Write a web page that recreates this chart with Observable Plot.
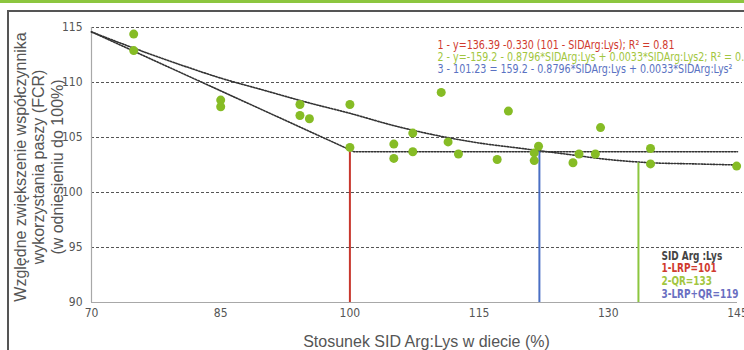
<!DOCTYPE html>
<html>
<head>
<meta charset="utf-8">
<script src="https://cdn.jsdelivr.net/npm/d3@7"></script>
<script src="https://cdn.jsdelivr.net/npm/@observablehq/plot@0.6"></script>
<style>
  html, body { margin: 0; padding: 0; background: #fff; }
  #wrap { position: relative; width: 744px; height: 350px; overflow: hidden; background: #fff; }
  #bar { position: absolute; left: 0; top: 0; width: 744px; height: 3px; background: #8cc63f; }
  #frame { position: absolute; left: 7px; top: 10px; width: 760px; height: 400px; border-top: 2px solid #555; border-left: 2px solid #555; }
  #chart { position: absolute; left: 0; top: 0; }
</style>
</head>
<body>
<div id="wrap"><div id="bar"></div><div id="frame"></div><div id="chart"></div></div>
<script>
// ---- data ----
const xTicks = [70, 85, 100, 115, 130, 145];
const yTicks = [90, 95, 100, 105, 110, 115];
const gridVals = [95, 100, 105, 110, 115];

const pointX = [74.9, 74.9, 85.0, 85.0, 94.2, 94.2, 95.3, 100.0, 100.0, 110.6, 118.4, 105.1, 105.1, 107.3,
                107.3, 111.4, 112.6, 117.1, 121.9, 121.4, 121.4, 126.6, 125.9, 128.5, 129.1, 134.9, 134.9, 144.9];
const pointY = [114.4, 112.9, 108.4, 107.8, 108.0, 107.0, 106.7, 108.0, 104.1, 109.1, 107.4, 104.4, 103.1, 105.4,
                103.7, 104.6, 103.5, 103.0, 104.2, 103.6, 102.9, 103.5, 102.7, 103.5, 105.9, 104.0, 102.6, 102.4];

// quadratic fit curve
const qrX = [70, 75, 80, 85, 90, 95, 100, 105, 110, 115, 120, 125, 130, 135, 140, 145];
const qrY = [114.6, 113.1, 111.7, 110.4, 109.3, 108.2, 107.2, 106.1, 105.2, 104.5, 104.0, 103.5, 103.0, 102.7, 102.6, 102.5];

// linear-plateau curve
const lrpX = [70, 100.5, 145];
const lrpY = [114.6, 103.7, 103.7];

// breakpoint lines
const cutX = [100, 122, 133.5];
const cutTop = [103.7, 103.7, 102.7];
const cutColor = ["#c8372d", "#4a6fc4", "#8cc63f"];

const eqTexts = [
  "1 - y=136.39 -0.330 (101 - SIDArg:Lys); R² = 0.81",
  "2 - y=-159.2 - 0.8796*SIDArg:Lys + 0.0033*SIDArg:Lys2; R² = 0.75",
  "3 - 101.23 = 159.2 - 0.8796*SIDArg:Lys + 0.0033*SIDArg:Lys²"
];
const eqColors = ["#d03a2e", "#a2c640", "#5a72c2"];

const legendTexts = ["SID Arg :Lys", "1-LRP=101", "2-QR=133", "3-LRP+QR=119"];
const legendColors = ["#444444", "#d03a2e", "#a2c640", "#6a6fc2"];

const yTitle = "Względne zwiększenie współczynnika\nwykorzystania paszy (FCR)\n(w odniesieniu do 100%)";
const xTitle = "Stosunek SID Arg:Lys w diecie (%)";

// ---- build tables ----
const points = pointX.map((x, i) => ({x, y: pointY[i]}));
const qr = qrX.map((x, i) => ({x, y: qrY[i]}));
const lrp = lrpX.map((x, i) => ({x, y: lrpY[i]}));
const cuts = cutX.map((x, i) => ({x, top: cutTop[i], c: cutColor[i]}));

const narrow = "'Liberation Sans Narrow', 'DejaVu Sans Condensed', 'Roboto Condensed', sans-serif";

const eqMarks = eqTexts.map((t, i) => Plot.text([t], {
  frameAnchor: "top-left", dx: 346, dy: 17 + i * 12, textAnchor: "start", lineAnchor: "middle",
  fill: eqColors[i], fontFamily: narrow, fontSize: 13
}));
const legendMarks = legendTexts.map((t, i) => Plot.text([t], {
  frameAnchor: "bottom-left", dx: 570, dy: -47 + i * 12.7, textAnchor: "start", lineAnchor: "middle",
  fill: legendColors[i], fontFamily: narrow, fontSize: 13, fontWeight: "bold"
}));

const chart = Plot.plot({
  width: 744,
  height: 350,
  marginLeft: 91,
  marginRight: 7,
  marginTop: 27,
  marginBottom: 48,
  style: {background: "transparent", color: "#555", fontFamily: narrow, fontSize: "12px"},
  x: {domain: [70, 145]},
  y: {domain: [90, 115]},
  marks: [
    Plot.gridY(gridVals, {stroke: "#555", strokeOpacity: 1, strokeDasharray: "3,2", strokeWidth: 1, insetRight: -5}),
    Plot.ruleY([90], {stroke: "#a8a8a8", strokeWidth: 1.2}),
    Plot.ruleX([70], {stroke: "#a8a8a8", strokeWidth: 1.2}),
    Plot.axisX({ticks: xTicks, tickSize: 0, tickPadding: 6, label: null, fill: "#555", fontSize: 12}),
    Plot.axisY({ticks: yTicks, tickSize: 0, tickPadding: 9, label: null, fill: "#555", fontSize: 12}),
    Plot.line(qr, {x: "x", y: "y", stroke: "#333", strokeWidth: 1.6, strokeDasharray: "1.5,1.5", curve: "monotone-x"}),
    Plot.line(lrp, {x: "x", y: "y", stroke: "#333", strokeWidth: 1.6, strokeDasharray: "1.5,1.5"}),
    Plot.ruleX(cuts, {x: "x", y1: 90, y2: "top", stroke: "c", strokeWidth: 2}),
    Plot.dot(points, {x: "x", y: "y", r: 4.5, fill: "#86bc25"}),
    ...eqMarks,
    ...legendMarks,
    Plot.text([yTitle], {frameAnchor: "left", dx: -53, dy: 2, rotate: -90, textAnchor: "middle", lineAnchor: "middle",
      lineHeight: 1.15, fill: "#555", fontFamily: "'Liberation Sans', Arial, sans-serif", fontSize: 16}),
    Plot.text([xTitle], {frameAnchor: "bottom", dx: 12, dy: 39, textAnchor: "middle", lineAnchor: "middle",
      fill: "#555", fontFamily: "'Liberation Sans', Arial, sans-serif", fontSize: 16})
  ]
});
document.getElementById("chart").appendChild(chart);

// condense the annotation texts to the reference's narrow widths
function condense(texts, refIndex, refWidth) {
  const nodes = d3.select(chart).selectAll("text").filter(function () { return texts.includes(this.textContent); }).nodes();
  const ref = nodes.find(n => n.textContent === texts[refIndex]);
  if (!ref) return;
  const f = refWidth / ref.getComputedTextLength();
  if (f >= 1) return;
  nodes.forEach(n => {
    n.setAttribute("textLength", (n.getComputedTextLength() * f).toFixed(1));
    n.setAttribute("lengthAdjust", "spacingAndGlyphs");
  });
}
condense(eqTexts, 0, 237);
condense(legendTexts, 3, 77);
</script>
</body>
</html>
